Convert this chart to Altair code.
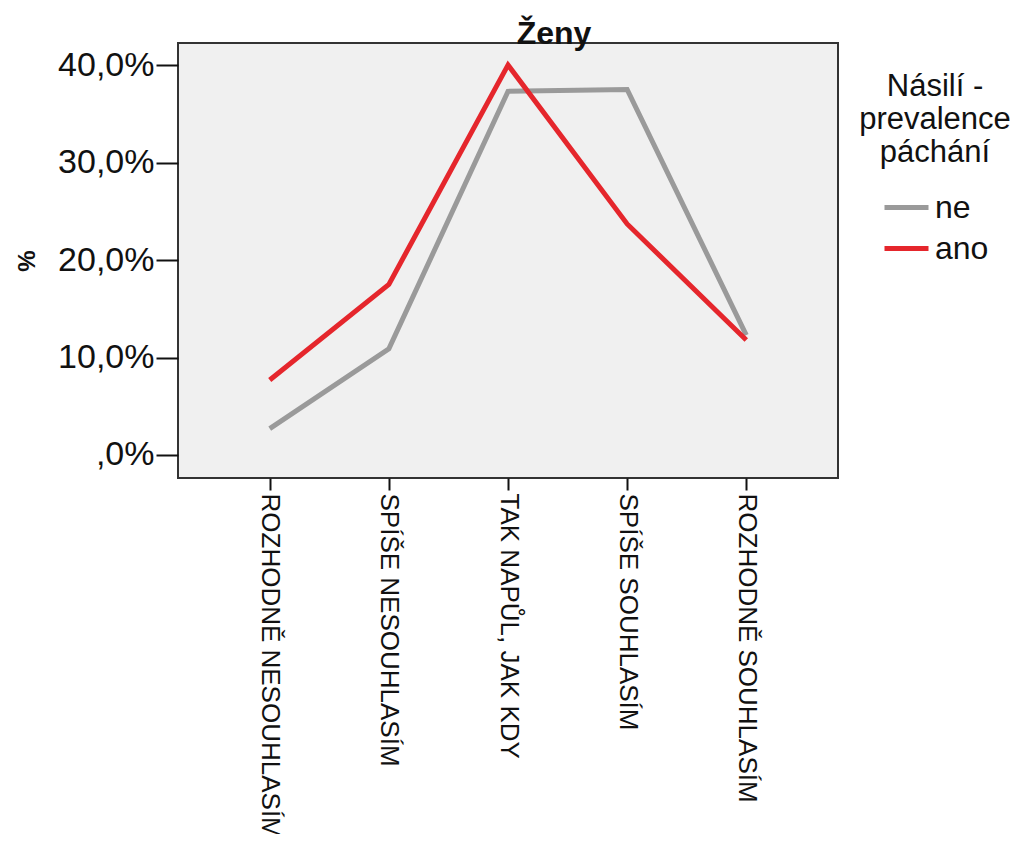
import altair as alt
import pandas as pd

categories = ["ROZHODNĚ NESOUHLASÍM", "SPÍŠE NESOUHLASÍM", "TAK NAPŮL, JAK KDY",
              "SPÍŠE SOUHLASÍM", "ROZHODNĚ SOUHLASÍM"]
series_names = ["ne", "ano"]
ne_values = [2.7, 10.9, 37.3, 37.5, 12.3]
ano_values = [7.7, 17.5, 40.0, 23.7, 11.8]
y_ticks = [0, 10, 20, 30, 40]

rows = []
for name, vals in zip(series_names, [ne_values, ano_values]):
    for c, v in zip(categories, vals):
        rows.append({"kat": c, "skupina": name, "pct": v})
df = pd.DataFrame(rows)

font = "Liberation Sans"

chart = alt.Chart(df).mark_line(strokeWidth=5).encode(
    x=alt.X("kat:N", sort=categories,
            scale=alt.Scale(type="point", padding=0.77),
            axis=alt.Axis(title=None, labelAngle=90, labelFontSize=26, labelFont=font,
                          labelColor="#111", domain=False, ticks=True, tickSize=12,
                          tickWidth=2, tickColor="#111", labelPadding=3, labelLimit=0)),
    y=alt.Y("pct:Q", scale=alt.Scale(domain=[-2.36, 42.26], nice=False, zero=False),
            axis=alt.Axis(title="%", values=y_ticks, grid=False, domain=False,
                          tickSize=22, tickWidth=2, tickColor="#111",
                          labelFontSize=34, labelFont=font, labelColor="#111",
                          labelPadding=2,
                          labelExpr="datum.value == 0 ? ',0%' : replace(format(datum.value, '.1f'), '.', ',') + '%'",
                          titleFontSize=24, titleFont=font, titleFontWeight="bold",
                          titleColor="#111", titlePadding=18)),
    color=alt.Color("skupina:N", sort=series_names,
                    scale=alt.Scale(domain=series_names, range=["#9a9a9a", "#e5262c"]),
                    legend=alt.Legend(title=["Násilí -", "prevalence", "páchání"],
                                      orient="none", legendX=681, legendY=29,
                                      titleFontSize=31, titleFont=font, titleFontWeight="normal",
                                      titleColor="#111", titleAlign="center", titleAnchor="middle",
                                      titleLineHeight=33, titlePadding=14,
                                      labelFontSize=32, labelFont=font, labelColor="#111",
                                      symbolType="stroke", symbolStrokeWidth=5, symbolSize=1936,
                                      labelOffset=4, rowPadding=-4, padding=0)),
).properties(
    width=660, height=435,
    title=alt.TitleParams("Ženy", fontSize=32, font=font, fontWeight="bold", color="#111",
                          anchor="middle", dx=46, offset=-8),
    autosize=alt.AutoSizeParams(type="none"),
    padding={"left": 170, "top": 35, "right": 183, "bottom": 356},
    background="white",
).configure_view(
    fill="#f0f0f0", stroke="#333333", strokeWidth=2
)

chart.save("out.html", embed_options={"renderer": "svg", "actions": False})
